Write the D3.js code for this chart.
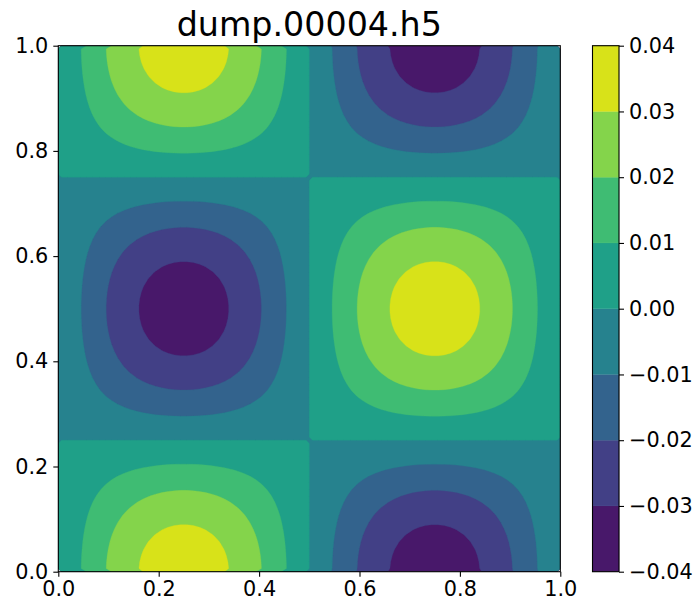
<!DOCTYPE html>
<html>
<head>
<meta charset="utf-8">
<script src="https://cdn.jsdelivr.net/npm/d3@7"></script>
<style>
  body { margin: 0; background: #fff; }
  text { font-family: "DejaVu Sans", sans-serif; }
</style>
</head>
<body>
<svg id="chart" width="698" height="600"></svg>
<script>
// Chart data
const title = "dump.00004.h5";
const levels = [-0.04, -0.03, -0.02, -0.01, 0.00, 0.01, 0.02, 0.03, 0.04];
const axisTicks = [0.0, 0.2, 0.4, 0.6, 0.8, 1.0];
// Peak value of the field (yellow core sits just above 0.03)
const amplitude = 0.0355;
// Field shape along x, 80 cell centres from x = 0 to 1
const xProfile = [
    .0393, .1175, .1951, .2714, .3461, .4187, .4886, .5556, .6191, .6788,
    .7343, .7853, .8315, .8725, .9081, .9382, .9625, .9808, .9931, .9992,
    .9992, .9931, .9808, .9625, .9382, .9081, .8725, .8315, .7853, .7343,
    .6788, .6191, .5556, .4886, .4187, .3461, .2714, .1951, .1175, .0393,
    -.0393, -.1175, -.1951, -.2714, -.3461, -.4187, -.4886, -.5556, -.6191, -.6788,
    -.7343, -.7853, -.8315, -.8725, -.9081, -.9382, -.9625, -.9808, -.9931, -.9992,
    -.9992, -.9931, -.9808, -.9625, -.9382, -.9081, -.8725, -.8315, -.7853, -.7343,
    -.6788, -.6191, -.5556, -.4886, -.4187, -.3461, -.2714, -.1951, -.1175, -.0393
];
// Field shape along y, 80 cell centres from y = 0 to 1
const yProfile = [
    .9992, .9931, .9808, .9625, .9382, .9081, .8725, .8315, .7853, .7343,
    .6788, .6191, .5556, .4886, .4187, .3461, .2714, .1951, .1175, .0393,
    -.0393, -.1175, -.1951, -.2714, -.3461, -.4187, -.4886, -.5556, -.6191, -.6788,
    -.7343, -.7853, -.8315, -.8725, -.9081, -.9382, -.9625, -.9808, -.9931, -.9992,
    -.9992, -.9931, -.9808, -.9625, -.9382, -.9081, -.8725, -.8315, -.7853, -.7343,
    -.6788, -.6191, -.5556, -.4886, -.4187, -.3461, -.2714, -.1951, -.1175, -.0393,
    .0393, .1175, .1951, .2714, .3461, .4187, .4886, .5556, .6191, .6788,
    .7343, .7853, .8315, .8725, .9081, .9382, .9625, .9808, .9931, .9992
];

// Layout
const plotLeft = 58.3, plotRight = 560.3, plotTop = 45.7, plotBottom = 571.7;
const cbarLeft = 592.5, cbarWidth = 26.5;
const fontSize = 20.8;

const svg = d3.select("#chart");

const x = d3.scaleLinear().domain([0, 1]).range([plotLeft, plotRight]);
const y = d3.scaleLinear().domain([0, 1]).range([plotBottom, plotTop]);
const bandColor = i => d3.interpolateViridis((i + 0.5) / (levels.length - 1));

// Grid of values: row j uses yProfile[j], column i uses xProfile[i]
const nx = xProfile.length, ny = yProfile.length;
const values = new Array(nx * ny);
for (let j = 0; j < ny; j++) {
    for (let i = 0; i < nx; i++) {
        values[j * nx + i] = amplitude * xProfile[i] * yProfile[j];
    }
}

// d3.contours puts sample i at grid coordinate i + 0.5, i.e. the cell centre
const gridToPixels = d3.geoTransform({
    point: function (cx, cy) {
        this.stream.point(x(cx / nx), y(cy / ny));
    }
});
const path = d3.geoPath(gridToPixels);

const contourGen = d3.contours().size([nx, ny]);
const bands = levels.slice(0, -1).map((t, i) => ({ geo: contourGen.contour(values, t), index: i }));

svg.append("defs").append("clipPath")
    .attr("id", "plot-clip")
    .append("rect")
    .attr("x", plotLeft).attr("y", plotTop)
    .attr("width", plotRight - plotLeft).attr("height", plotBottom - plotTop);

// Filled contours: stack each "above threshold" area on top of the previous one
svg.append("g")
    .attr("clip-path", "url(#plot-clip)")
    .selectAll("path")
    .data(bands)
    .join("path")
    .attr("d", d => path(d.geo))
    .attr("fill", d => bandColor(d.index))
    .attr("stroke", d => bandColor(d.index))
    .attr("stroke-width", 0.3);

// Axes
function styleAxis(g) {
    g.select(".domain").remove();
    g.selectAll(".tick line").attr("stroke", "#000").attr("stroke-width", 1.1);
    g.selectAll(".tick text")
        .attr("fill", "#000")
        .attr("font-size", fontSize)
        .attr("font-family", "DejaVu Sans, sans-serif");
}

svg.append("g")
    .attr("transform", `translate(0,${plotBottom})`)
    .call(d3.axisBottom(x).tickValues(axisTicks).tickFormat(d3.format(".1f"))
        .tickSize(5).tickPadding(5).tickSizeOuter(0))
    .call(styleAxis);

svg.append("g")
    .attr("transform", `translate(${plotLeft},0)`)
    .call(d3.axisLeft(y).tickValues(axisTicks).tickFormat(d3.format(".1f"))
        .tickSize(5).tickPadding(5).tickSizeOuter(0))
    .call(styleAxis);

// Plot frame
svg.append("rect")
    .attr("x", plotLeft).attr("y", plotTop)
    .attr("width", plotRight - plotLeft).attr("height", plotBottom - plotTop)
    .attr("fill", "none")
    .attr("stroke", "#000")
    .attr("stroke-width", 1.1);

// Colorbar
const cy = d3.scaleLinear().domain([levels[0], levels[levels.length - 1]]).range([plotBottom, plotTop]);

svg.append("g")
    .selectAll("rect")
    .data(levels.slice(0, -1))
    .join("rect")
    .attr("x", cbarLeft)
    .attr("width", cbarWidth)
    .attr("y", (d, i) => cy(levels[i + 1]))
    .attr("height", (d, i) => cy(levels[i]) - cy(levels[i + 1]))
    .attr("fill", (d, i) => bandColor(i))
    .attr("stroke", (d, i) => bandColor(i))
    .attr("stroke-width", 0.3);

svg.append("g")
    .attr("transform", `translate(${cbarLeft + cbarWidth},0)`)
    .call(d3.axisRight(cy).tickValues(levels).tickFormat(d3.format(".2f"))
        .tickSize(5).tickPadding(5).tickSizeOuter(0))
    .call(styleAxis);

svg.append("rect")
    .attr("x", cbarLeft).attr("y", plotTop)
    .attr("width", cbarWidth).attr("height", plotBottom - plotTop)
    .attr("fill", "none")
    .attr("stroke", "#000")
    .attr("stroke-width", 1.1);

// Title
svg.append("text")
    .attr("x", (plotLeft + plotRight) / 2)
    .attr("y", 36)
    .attr("text-anchor", "middle")
    .attr("font-size", 33.3)
    .attr("fill", "#000")
    .text(title);
</script>
</body>
</html>
